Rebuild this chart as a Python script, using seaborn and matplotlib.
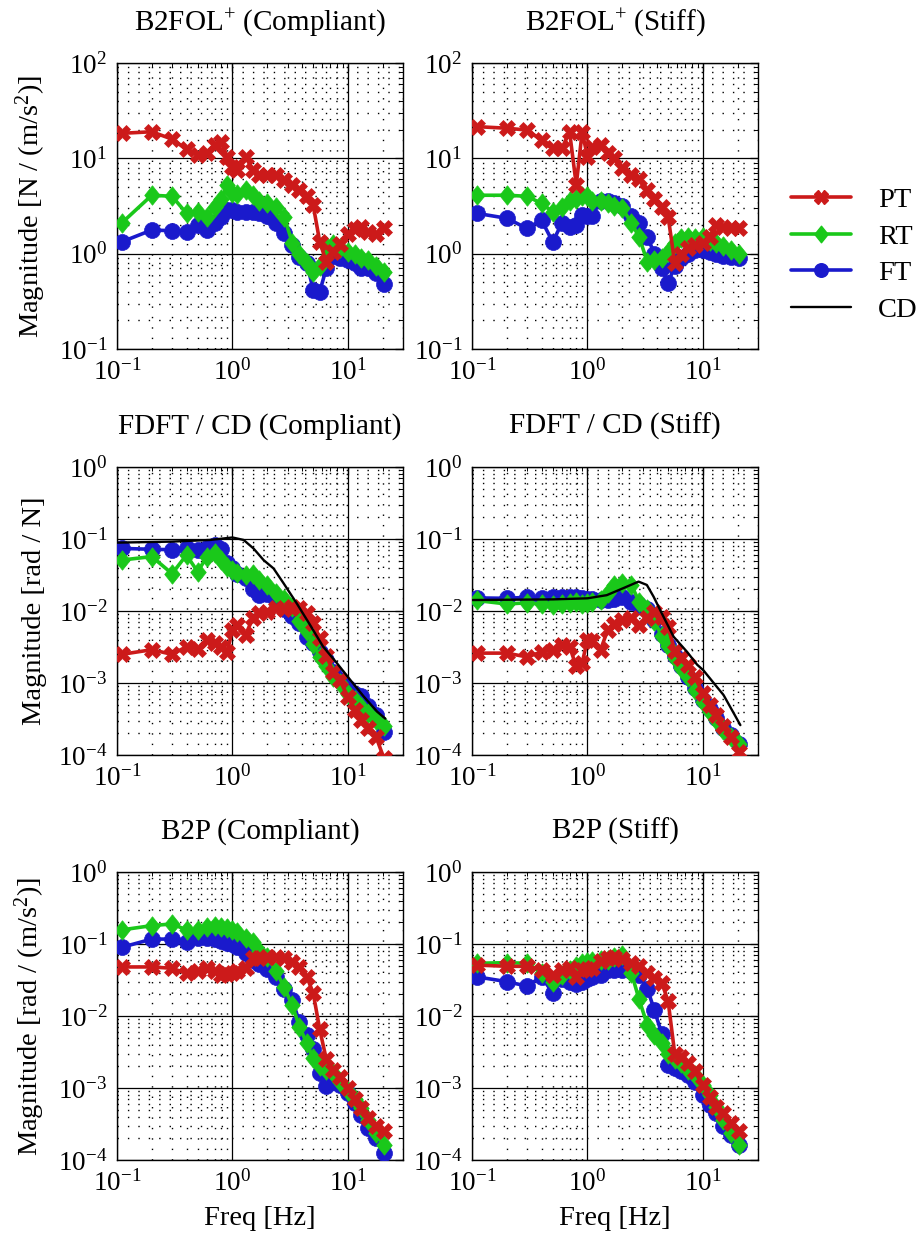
import numpy as np
import pandas as pd
import matplotlib
matplotlib.use("Agg")
import matplotlib.pyplot as plt
from matplotlib.path import Path
from matplotlib.lines import Line2D
import seaborn as sns

# ---------------------------------------------------------------- data
FREQ = [0.11, 0.2, 0.3, 0.4, 0.5, 0.6, 0.7, 0.8, 0.9, 1.0, 1.1, 1.3, 1.5, 1.7,
        2.0, 2.4, 2.8, 3.3, 3.8, 4.4, 5.0, 5.7, 6.5, 7.5, 8.5, 10, 11.5, 13,
        15, 17.5, 20.5]

# B2FOL+ (compliant)
B2FOL_C_PT = [18.3, 19, 15.9, 12.4, 10.8, 11.3, 13.7, 14.9, 10.4, 8.1, 7.5, 10.4,
              7.5, 6.7, 6.7, 6.7, 5.9, 5.2, 4.6, 4.0, 3.24, 1.33, 0.82, 1.05, 1.25,
              1.6, 1.8, 1.9, 1.7, 1.6, 1.85]
B2FOL_C_RT = [2.1, 4.1, 4.0, 2.65, 2.75, 2.45, 3.1, 3.7, 5.2, 4.3, 4.2, 4.6, 4.1,
              3.6, 3.4, 3.1, 2.45, 1.3, 1.0, 0.8, 0.65, 0.75, 1.2, 1.25, 1.15, 1.05,
              1.0, 0.9, 0.85, 0.75, 0.65]
B2FOL_C_FT = [1.33, 1.77, 1.74, 1.7, 2.0, 1.77, 2.08, 2.44, 2.86, 2.9, 2.75, 2.75,
              2.75, 2.65, 2.5, 2.08, 1.63, 1.23, 0.93, 0.8, 0.42, 0.4, 0.7, 0.95,
              0.9, 0.85, 0.8, 0.7, 0.7, 0.62, 0.48]

# B2FOL+ (stiff)
B2FOL_S_PT = [21.5, 20.7, 19.8, 15.5, 12.7, 12.7, 19, 5.25, 19, 10.4, 13.2, 13.8,
              11.5, 10, 7.85, 6.7, 6.0, 4.6, 3.7, 3.1, 2.44, 0.8, 1.0, 1.15, 1.23,
              1.3, 1.5, 2.0, 1.9, 1.84, 1.84]
B2FOL_S_RT = [4.1, 4.1, 4.0, 3.37, 2.75, 3.1, 3.6, 3.7, 4.0, 4.0, 3.6, 3.6, 3.4,
              3.2, 3.0, 2.1, 1.5, 0.82, 0.85, 0.9, 1.05, 1.3, 1.45, 1.5, 1.45, 1.5,
              1.35, 1.3, 1.2, 1.1, 1.0]
B2FOL_S_FT = [2.65, 2.35, 1.84, 2.25, 1.33, 2.08, 1.92, 2.0, 2.54, 2.5, 2.5, 3.6,
              3.6, 3.4, 3.2, 2.5, 2.1, 1.5, 1.0, 0.7, 0.49, 0.75, 0.9, 1.0, 1.1,
              1.1, 1.05, 1.0, 0.95, 0.92, 0.9]

# FDFT / CD (compliant)
FDFT_C_PT = [0.0025, 0.0029, 0.0025, 0.0032, 0.003, 0.0039, 0.0036, 0.0032,
             0.0027, 0.0055, 0.0064, 0.0047, 0.0079, 0.0093, 0.0098, 0.011,
             0.0105, 0.0115, 0.011, 0.0095, 0.0068, 0.0042, 0.0024, 0.0014,
             0.0011, 0.00064, 0.00042, 0.00031, 0.00024, 0.00018, 0.00009]
FDFT_C_RT = [0.051, 0.057, 0.033, 0.06, 0.035, 0.057, 0.063, 0.051, 0.041, 0.037,
             0.034, 0.0316, 0.033, 0.027, 0.023, 0.018, 0.0145, 0.0115, 0.0072,
             0.0052, 0.0035, 0.0023, 0.0017, 0.0012, 0.001, 0.0007, 0.00058,
             0.00047, 0.00038, 0.00031, 0.00025]
FDFT_C_FT = [0.074, 0.072, 0.071, 0.074, 0.07, 0.074, 0.083, 0.072, 0.046, 0.04,
             0.033, 0.0285, 0.02, 0.0166, 0.017, 0.0142, 0.0105, 0.0085, 0.0068,
             0.0044, 0.0036, 0.0027, 0.0021, 0.0014, 0.0011, 0.00085, 0.0007,
             0.00065, 0.00048, 0.00036, 0.00021]
CD_FREQ_C = [0.1, 0.3, 0.64, 1.0, 1.25, 1.52, 1.86, 2.27, 2.77, 3.6, 4.7, 6.1,
             8.0, 10.5, 13.7, 17.9, 21.1]
CD_C = [0.089, 0.092, 0.097, 0.105, 0.097, 0.074, 0.051, 0.039, 0.0243, 0.0128,
        0.0064, 0.0032, 0.0019, 0.0011, 0.00065, 0.0004, 0.00032]

# FDFT / CD (stiff)
FDFT_S_PT = [0.0026, 0.0026, 0.0023, 0.0027, 0.0029, 0.0034, 0.0032, 0.0017,
             0.0019, 0.004, 0.0038, 0.0029, 0.0055, 0.0067, 0.0075, 0.0079,
             0.0064, 0.0079, 0.0098, 0.0083, 0.006, 0.0028, 0.0022, 0.0018,
             0.0012, 0.00073, 0.0005, 0.00036, 0.00025, 0.00018, 0.00011]
FDFT_S_RT = [0.014, 0.0125, 0.013, 0.0125, 0.012, 0.0125, 0.013, 0.0135, 0.0125,
             0.013, 0.0135, 0.0142, 0.0176, 0.023, 0.0243, 0.023, 0.0135, 0.0105,
             0.0072, 0.0045, 0.0033, 0.0022, 0.0016, 0.0012, 0.0008, 0.00054,
             0.0004, 0.00031, 0.00022, 0.00018, 0.00014]
FDFT_S_FT = [0.0152, 0.015, 0.0155, 0.015, 0.0158, 0.0155, 0.0158, 0.0158, 0.015,
             0.0148, 0.0145, 0.014, 0.0142, 0.0145, 0.0155, 0.0135, 0.012, 0.0105,
             0.0075, 0.0048, 0.0034, 0.0024, 0.0017, 0.0012, 0.00085, 0.00058,
             0.00043, 0.00033, 0.00024, 0.00019, 0.00014]
CD_FREQ_S = [0.1, 0.5, 1.0, 1.47, 2.05, 2.77, 3.27, 3.74, 4.56, 5.57, 7.3, 8.9,
             10.1, 12.4, 15.1, 18.5, 21.1]
CD_S = [0.0142, 0.0145, 0.015, 0.0166, 0.0208, 0.0256, 0.023, 0.0158, 0.0083,
        0.0044, 0.0027, 0.0018, 0.0015, 0.001, 0.00068, 0.00038, 0.00026]

# B2P (compliant)
B2P_C_PT = [0.048, 0.048, 0.046, 0.039, 0.042, 0.046, 0.042, 0.037, 0.038, 0.039,
            0.042, 0.046, 0.063, 0.063, 0.066, 0.066, 0.063, 0.057, 0.048, 0.035,
            0.021, 0.0065, 0.0025, 0.0018, 0.0014, 0.001, 0.0007, 0.00052,
            0.00038, 0.0003, 0.00025]
B2P_C_RT = [0.157, 0.18, 0.19, 0.157, 0.157, 0.174, 0.18, 0.174, 0.165, 0.157,
            0.145, 0.12, 0.105, 0.08, 0.065, 0.042, 0.025, 0.014, 0.0071, 0.0042,
            0.0026, 0.002, 0.0018, 0.0016, 0.0012, 0.0009, 0.0007, 0.00052,
            0.00036, 0.00024, 0.00016]
B2P_C_FT = [0.09, 0.117, 0.117, 0.108, 0.12, 0.122, 0.118, 0.11, 0.103, 0.1,
            0.092, 0.074, 0.06, 0.052, 0.045, 0.035, 0.024, 0.0167, 0.0083,
            0.0055, 0.0035, 0.0016, 0.00105, 0.0012, 0.0011, 0.00085, 0.00062,
            0.00042, 0.00028, 0.0002, 0.000125]

# B2P (stiff)
B2P_S_PT = [0.051, 0.049, 0.049, 0.044, 0.037, 0.044, 0.046, 0.035, 0.044, 0.045,
            0.046, 0.058, 0.064, 0.066, 0.062, 0.055, 0.049, 0.04, 0.034, 0.029,
            0.016, 0.003, 0.0027, 0.0022, 0.0017, 0.0011, 0.00075, 0.00055,
            0.00045, 0.00033, 0.00025]
B2P_S_RT = [0.054, 0.055, 0.054, 0.04, 0.03, 0.037, 0.044, 0.05, 0.054, 0.056,
            0.058, 0.06, 0.06, 0.065, 0.07, 0.04, 0.017, 0.0075, 0.0055, 0.0042,
            0.003, 0.0025, 0.0022, 0.0018, 0.0015, 0.0011, 0.0008, 0.00055,
            0.00036, 0.00024, 0.00016]
B2P_S_FT = [0.035, 0.03, 0.026, 0.035, 0.021, 0.033, 0.03, 0.028, 0.03, 0.033,
            0.035, 0.037, 0.044, 0.044, 0.044, 0.042, 0.037, 0.024, 0.012, 0.0057,
            0.0021, 0.0019, 0.0017, 0.0015, 0.0012, 0.0008, 0.00058, 0.00045,
            0.0003, 0.00022, 0.00016]

TITLES = ["B2FOL$^{+}$ (Compliant)", "B2FOL$^{+}$ (Stiff)",
          "FDFT / CD (Compliant)", "FDFT / CD (Stiff)",
          "B2P (Compliant)", "B2P (Stiff)"]
YLABELS = ["Magnitude [N / (m/s$^2$)]", "Magnitude [rad / N]",
           "Magnitude [rad / (m/s$^2$)]"]
XLABEL = "Freq [Hz]"
SERIES = ["PT", "RT", "FT", "CD"]

# ---------------------------------------------------------------- style
sns.set_style("white")
FONT = "Liberation Serif"
plt.rcParams.update({
    "font.family": ["serif"],
    "font.serif": [FONT, "DejaVu Serif"],
    "mathtext.fontset": "custom",
    "mathtext.rm": FONT,
    "mathtext.it": FONT + ":italic",
    "mathtext.bf": FONT + ":bold",
    "font.size": 20,
    "text.color": "black",
    "axes.labelcolor": "black",
    "xtick.color": "black",
    "ytick.color": "black",
    "axes.linewidth": 1.0,
    "axes.edgecolor": "black",
})

RED, GREEN, BLUE = "#CC1A1A", "#1AC81A", "#1A1ACC"
DIAMOND = Path([(0, 1), (0.8, 0), (0, -1), (-0.8, 0), (0, 1)],
               [Path.MOVETO, Path.LINETO, Path.LINETO, Path.LINETO, Path.CLOSEPOLY])
STYLE = {
    "PT": dict(color=RED, marker="X", markersize=11.5),
    "RT": dict(color=GREEN, marker=DIAMOND, markersize=14),
    "FT": dict(color=BLUE, marker="o", markersize=11.5),
}
LW = 2.6
TICK_FS = 19.5
LABEL_FS = 20.5
TITLE_FS = 21

fig = plt.figure(figsize=(9.24, 12.4), dpi=100)
W, H = 924.0, 1240.0
col_x = [117, 472]
row_y = [(63, 349), (467, 755), (872, 1160)]
ax_w = 286

panels = [
    (B2FOL_C_PT, B2FOL_C_RT, B2FOL_C_FT, None, None),
    (B2FOL_S_PT, B2FOL_S_RT, B2FOL_S_FT, None, None),
    (FDFT_C_PT, FDFT_C_RT, FDFT_C_FT, CD_FREQ_C, CD_C),
    (FDFT_S_PT, FDFT_S_RT, FDFT_S_FT, CD_FREQ_S, CD_S),
    (B2P_C_PT, B2P_C_RT, B2P_C_FT, None, None),
    (B2P_S_PT, B2P_S_RT, B2P_S_FT, None, None),
]
ylims = [(1e-1, 1e2), (1e-4, 1e0), (1e-4, 1e0)]

for i, (pt, rt, ft, cdf, cd) in enumerate(panels):
    r, c = divmod(i, 2)
    top, bot = row_y[r]
    ax = fig.add_axes([col_x[c] / W, 1 - bot / H, ax_w / W, (bot - top) / H])
    ax.set_xscale("log")
    ax.set_yscale("log")
    ax.set_xlim(0.1, 30)
    ax.set_ylim(*ylims[r])
    ax.set_axisbelow(True)

    df = pd.DataFrame({"freq": FREQ, "PT": pt, "RT": rt, "FT": ft})
    if cd is not None:
        sns.lineplot(x=cdf, y=cd, ax=ax, color="black", lw=1.7, legend=False,
                     zorder=5)
    for name in ["FT", "RT", "PT"]:
        st = STYLE[name]
        sns.lineplot(data=df, x="freq", y=name, ax=ax, color=st["color"], lw=LW,
                     marker=st["marker"], markersize=st["markersize"],
                     markeredgecolor=st["color"], markeredgewidth=0.5,
                     markerfacecolor=st["color"], legend=False, zorder=3)

    ax.grid(True, which="major", color="black", lw=0.9, ls="-")
    ax.grid(True, which="minor", color="black", lw=1.0, ls=(0, (1, 6.5)))
    ax.tick_params(which="both", direction="in", top=True, right=True,
                   colors="black", labelsize=TICK_FS)
    ax.tick_params(which="major", length=6, width=0.9, pad=7)
    ax.tick_params(which="minor", length=3, width=0.7)
    ax.set_title(TITLES[i], fontsize=TITLE_FS, pad=24)
    ax.set_xlabel(XLABEL if r == 2 else "", fontsize=LABEL_FS, labelpad=7)
    ax.set_ylabel(YLABELS[r] if c == 0 else "", fontsize=LABEL_FS, labelpad=8)
    for s in ax.spines.values():
        s.set_color("black")
        s.set_linewidth(1.0)

handles = [Line2D([], [], color=STYLE[n]["color"], lw=LW, marker=STYLE[n]["marker"],
                  markersize=STYLE[n]["markersize"] * 0.85,
                  markeredgecolor=STYLE[n]["color"])
           for n in ["PT", "RT", "FT"]]
handles.append(Line2D([], [], color="black", lw=1.7))
fig.legend(handles, SERIES, loc="center left", bbox_to_anchor=(791 / W, 1 - 255 / H),
           frameon=False, fontsize=LABEL_FS, handlelength=2.1, handletextpad=0.95,
           labelspacing=0.38, borderpad=0, borderaxespad=0)

fig.savefig("out.png", dpi=100)
